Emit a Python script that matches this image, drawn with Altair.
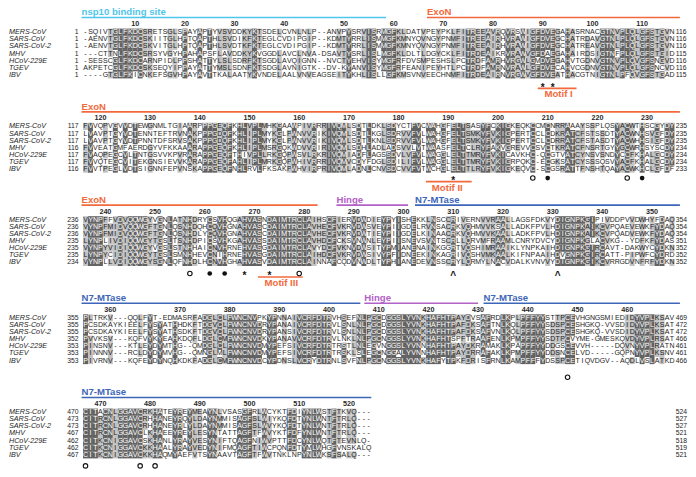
import altair as alt
import pandas as pd
from collections import Counter

SPECIES = ["MERS-CoV", "SARS-CoV", "SARS-CoV-2", "MHV", "HCoV-229E", "TGEV", "IBV"]

BLOCK1 = [
    "-SQIVTGLFKDCSRETSGLSPAYAPTYVSVDDKYKTSDELCVNLNLP--ANVPYSRVISRMGFKLDATVPEYPKLFITREEAVRQVRSWIGFDVEGAHASRNACGTNVPLQLGFSTGVN",
    "-AENVTGLFKDCSKIITGLHPTQAPTHLSVDIKFKTEGLCVDIPGIP--KDMTYRRLISMMGFKMNYQVNGYPNMFITREEAIRHVRAWIGFDVEGCHATRDAVGTNLPLQLGFSTGVN",
    "-AENVTGLFKDCSKVITGLHPTQAPTHLSVDTKFKTEGLCVDIPGIP--KDMTYRRLISMMGFKMNYQVNGYPNMFITREEAIRHVRAWIGFDVEGCHATREAVGTNLPLQLGFSTGVN",
    "---CTTNLFKDCSRSYVGYHPAHAPSFLAVDDKYKVGGDLAVCLNVA-DSAVTYSRLISLMGFKLDLTLDGYCKLFITRDEAIKRVRAWVGFDAEGAHAIRDSIGTNFPLQLGFSTGID",
    "-SESSCGLFKDCARNPIDLPPSHATTYLSLSDRFKTSGDLAVQIGNN--NVCTYEHVISYMGFRFDVSMPESHSLPCTRDFAMRHVRGWLGMDVEGAHVTGDNVGTNVPLQVGFSNGVD",
    "AKPETCGLFKDCSKSEQYIPPAYATTYMSLSDNFKTSDGLAVNIGTK--DV-KYANVISYMGFRFEANIPEYHTLPCTRDFAMRNVRAWLGFDVECAHVCGDNVGTNVPLQLGFSNCVD",
    "----GTGLFKICNKEFSGVHPAYAVTTKALAATYKVNDELAALVNVEAGSEITYKHLISLLGFKMSVNVEECHNMFITRDEAIRNVRGWVGFDVEATHACGTNIGTNLPFQVGFSTGAD",
]
BLOCK2 = [
    "FVVQPVGVVDTEWGNMLTGIAARPPPGEQFKHLVPLMHKGAAWPIVRRRIVQMLSDTLDKLSDYCTFVCWAHGFELTSASYFCKIGKEQKCCMCNRRAAAYSSPLQSYACWTHSCGYDY",
    "LVAVPTGYVDTENNTEFTRVNAKPPPGDQFKHLIPLMYKGLPWNVVRIKIVQMLSDTLKGLSDRVVFVLWAHGFELTSMKYFVKIGPERTCCLCDKRATCFSTSSDTYACWNHSVGFDY",
    "LVAVPTGYVDTPNNTDFSRVSAKPPPGDQFKHLIPLMYKGLPWNVVRIKIVQMLSDTLKNLSDRVVFVLWAHGFELTSMKYFVKIGPERTCCLCDRRATCFSTASDTYACWHHSIGFDY",
    "FVVEATGMFAERDGYVFKKAAARAPPGEQFKHLIPLMSRGQKWDVVRIRIVQMLSDHLADLADSVVLVTWAASFELTCLRYFAKVGREVVCSVCTKRATCFNSRTGYYGCWRHSYSCDY",
    "FVAQPEGCVLTNTGSVVKPVRARAPPGEQFTHIVPLLRKGQPWSVLRKRIVQMIADFLAGSSDVLVFVLWAGGLELTTMRYFVKICAVKHC-QCGTVATCYNSVSNDYCCFKHALGCDY",
    "FVVQTEGCVITEKGNSIEVVKARAPPGEQFAHLIPLMRKGQPWHIVRRRIVQMVCDYFDGLSDILIFVLWAGGLELTTMRYFVKIGRPQKC-ECGKSATCYSSSQSVYACFKHALGCDY",
    "FVVTPEGLVDTSIGNNFEPVNSKAPPGEQFNHLRVLFKSAKPWHVIRPRIVQMLADNLCNVSDCVVFVTWCHGLELTTLRYFVKIGKEQVC-SCGSRATTFNSHTQAYACWKHCLGFDF",
]
BLOCK3 = [
    "VYNPFFVDVQQWGYVGNLATNHDRYCSVHQGAHVASNDAIMTRCLAIHSCFIERVDWDIEYPYISHEKKLNSCCRIVERNVVRAALLAGSFDKVYDIGNPKGIPIVDDPVVDWHYFDAQ",
    "VYNPFMIDVQQWGFTGNLQSNHDQHCQVHGNAHVASCDAIMTRCLAVHECFVKRVDWSVEYPIIGDELRVNSACRKVQHMVVKSALLADKFPVLHDIGNPKAIKCVPQAEVEWKFYDAQ",
    "VYNPFMIDVQQWGFTGNLQSNHDLYCQVHGNAHVASCDAIMTRCLAVHECFVKRVDWTIEYPIIGDELKINAACRKVQHMVVKAALLADKFPVLHDIGNPKAIKCVPQADVEWKFYDAQ",
    "LYNPLIVDIQQWGYTGSLTSNHDPICSVHKGAHVASSDAIMTRCLAVHDCFCKSVNWNLEYPIISNEVSVNTSCRLLQRVMFRAAMLCNRYDVCYDIGNPKGLACVKG--YDFKFYDAS",
    "VYNPYVIDIQQWGYVGSLSTNHHAICNVHRNEHVASGDAIMTRCLAVYDCFVKNVDWSITYPMIANENAINKGGRTVQSHIMRAAIKLYNPKAIHDIGNPKGIRCAVT-DAKWYCYDKN",
    "LYNPYCIDIQQWGYTGSLSMNHHEVCNIHRNEHVASGDAIMTRCLAIHDCFVKRVDWSIVYPFIDNEEKINKAGRIVQSHVMKAALKIFNPAAIHDVGNPKGIRCATT-PIPWFCYDRD",
    "VYNPLLVDIQQWGYSGNLQFNHDLHCNVHGHAHVASVDAIMTRCLAINNAFCQDVNWDLTYPHIANEDEVNSSCRYLQRMYLNACVDALKVNVVYDIGNPKGIKCVRRGDVNFRFYDKN",
]
BLOCK4 = [
    "PLTRKV---QQLFYT-EDMASRFADGLCLFWNCNVPKYPNNAIVCRFDTRVHSEFNLPGCDGGSLYVNKHAFHTPAYDVSAFRDLKPLPFFYYSTTPCEVHGNGSMIEDIDYVPLKSAV",
    "PCSDKAYKIEELFYSYATHHDKFTDGVCLFWNCNVDRYPANAIVCRFDTRVLSNLNLPGCDGGSLYVNKHAFHTPAFDKSAFTNLKQLPFFYYSDSPCESHGKQ-VVSDIDYVPLKSAT",
    "PCSDKAYKIEELFYSYATHSDKFTDGVCLFWNCNVDRYPANSIVCRFDTRVLSNLNLPGCDGGSLYVNKHAFHTPAFDKSAFVNLKQLPFFYYSDSPCESHGKQ-VVSDIDYVPLKSAT",
    "PVVKSV---KQFVYKYEAHKDQFLDGLCMFWNCNVDKYPANAVVCRFDTRVLNKLNLPGCNGGSLYVNKHAFHTSPFTRAAFENLKPMPFFYYSDTPCVYME-GMESKQVDYVPLRSAT",
    "PINSNV---KTLEYDYMTHG--QMDGLCLFWNCNVDMYPEFSIVCRFDTRTRSTLNLEGVNGGSLYVNNHAFHTPAYDKRAMAKLKPAPFFYYDDGSCEVVH-----DQVNYVPLRATN",
    "PINNNV---RCLDYDYMVHG--QMNGLMLFWNCNVDMYPEFSIVCRFDTRTRSKLSLEGCNGGALYVNNHAFHTPAYDRRAFAKLKPMPFFYYDDSNCELVD-----GQPNYVPLKSNV",
    "PIVRNV---KQFEYDYNQHKDKFADGLCMFWNCNVDCYPDNSLVCRYDTRNLSVFNLPGCNGGSLYVNKHAFYTPKFDRISFRNLKAMPFFFYDSSPCETIQVDGV--AQDLVSLATKD",
]
BLOCK5 = [
    "CITACNLGGAVCRKHATEYREYMEAYNLVSASGFRLWCYKTFDIYNLWSTFTKVQ---",
    "CITRCNLGGAVCRHHANEYRQYLDAYNMMISAGFSLWIYKQFDTYNLWNTFTRLQ---",
    "CITRCNLGGAVCRHHANEYRLYLDAYNMMISAGFSLWVYKQFDTYNLWNTFTRLQ---",
    "CITRCNLGGAVCLKHAEEYREYLESYNTATTAGFTFWVYKTFDFYNLWNTFTRLQ---",
    "CITKCNIGGAVCSKHANLYRAYVESYNIFTQAGFNIWVPTTFDCYNLWQTFTEVNLQ-",
    "CITKCNIGGAVCKKHAALYRAYVEDYNIFMQAGFTIWCPQNFDTYMLWHGFVNSKALQ",
    "CITKCNIGGAVCKKHAQMYAEFVTSYNAAVTAGFTFWVTNKLNPYNLWKSFSALQ---",
]
BLOCKS = [BLOCK1, BLOCK2, BLOCK3, BLOCK4, BLOCK5]

STARTS = [
    [1, 1, 1, 1, 1, 1, 1],
    [117, 117, 117, 116, 117, 117, 116],
    [236, 236, 236, 235, 235, 235, 234],
    [355, 355, 355, 352, 353, 353, 353],
    [470, 473, 473, 467, 462, 462, 467],
]
ENDS = [
    [116, 116, 116, 115, 116, 116, 115],
    [235, 235, 235, 234, 234, 234, 233],
    [354, 354, 354, 351, 352, 352, 352],
    [469, 472, 472, 466, 461, 461, 466],
    [524, 527, 527, 521, 518, 519, 521],
]
# sequence whose numbering is used for the ruler above each block
RULER_REF = [0, 0, 0, 0, 3]

# domain annotations: block, label, colour, start column, end column
DOMAINS = [
    (0, "nsp10 binding site", "#4fc6ea", 0.2, 61.5),
    (0, "ExoN", "#f26a3c", 69.7, 120.6),
    (1, "ExoN", "#f26a3c", 0.2, 120.6),
    (2, "ExoN", "#f26a3c", 0.2, 47.7),
    (2, "Hinge", "#b262c6", 51.5, 65.9),
    (2, "N7-MTase", "#3d66b8", 67.3, 120.6),
    (3, "N7-MTase", "#3d66b8", 0.2, 56.3),
    (3, "Hinge", "#b262c6", 57.1, 80.0),
    (3, "N7-MTase", "#3d66b8", 81.1, 120.6),
    (4, "N7-MTase", "#3d66b8", 0.2, 58.5),
]
# motifs: block, label, line start col, line end col, label centre col
MOTIFS = [
    (0, "Motif I", 92.0, 99.8, 96.2),
    (1, "Motif II", 69.5, 78.7, 73.8),
    (2, "Motif III", 35.7, 44.7, 40.4),
]
# residue marks below the alignment: block, column, symbol
MARKS = [
    (0, 93, "*"), (0, 95, "*"),
    (1, 75, "*"), (1, 91, "open"), (1, 94, "filled"), (1, 110, "open"), (1, 113, "filled"),
    (2, 22, "open"), (2, 26, "filled"), (2, 29, "filled"), (2, 33, "*"), (2, 38, "*"),
    (2, 44, "open"), (2, 75, "^"), (2, 96, "^"),
    (3, 98, "open"),
    (4, 1, "open"), (4, 12, "open"), (4, 15, "open"),
]

# layout (row units, column units)
BLOCK_Y = [3.243, 16.486, 29.595, 43.378, 56.622]
MARK_DY = [1.40, 1.25, 1.55, 2.35, 1.55]
YDOM = [-0.149, 64.61]
XDOM = [-14.594, 122.23]
NAME_X = -14.4
START_X = -0.41
END_X = 119.75

DARK = "#626262"
LIGHT = "#c2c2c2"
TXT = "#1e1e1e"
FONT = "Liberation Sans"
SEQFONT = "Liberation Sans Narrow, Liberation Sans"
GROUPS = ["FYW", "ILMV", "KR", "DE", "AG", "ST", "NQ"]


def grp(r):
    for g in GROUPS:
        if r in g:
            return g
    return r


cells = []
for b, blk in enumerate(BLOCKS):
    L = max(len(s) for s in blk)
    blk = [s.ljust(L, "-") for s in blk]
    for c in range(L):
        col = [s[c] for s in blk]
        res = [r for r in col if r != "-"]
        if res:
            cons, n_id = Counter(res).most_common(1)[0]
        else:
            cons, n_id = "", 0
        g = grp(cons)
        n_sim = sum(1 for r in res if grp(r) == g)
        for i, r in enumerate(col):
            if r == "-":
                shade = "none"
            elif r == cons and n_id >= 6:
                shade = "dark"
            elif r == cons and n_id == 5:
                shade = "light"
            elif n_id < 6 and grp(r) == g and n_sim >= 5:
                shade = "light"
            else:
                shade = "none"
            y = BLOCK_Y[b] + i
            cells.append(dict(x=c + 1, xl=c + 0.5, xr=c + 1.5, y=y, yt=y - 0.5, yb=y + 0.5,
                              ch=r, shade=shade, tcol="#ffffff" if shade == "dark" else TXT))
cells = pd.DataFrame(cells)

names, nums = [], []
for b in range(len(BLOCKS)):
    for i, sp in enumerate(SPECIES):
        y = BLOCK_Y[b] + i
        names.append(dict(x=NAME_X, y=y, t=sp))
        nums.append(dict(x=START_X, y=y, t=str(STARTS[b][i]), side="s"))
        nums.append(dict(x=END_X, y=y, t=str(ENDS[b][i]), side="e"))
names = pd.DataFrame(names)
nums = pd.DataFrame(nums)

ruler = []
for b, blk in enumerate(BLOCKS):
    ref = RULER_REF[b]
    n = STARTS[b][ref] - 1
    for c, ch in enumerate(blk[ref]):
        if ch != "-":
            n += 1
            if n % 10 == 0:
                ruler.append(dict(x=c + 1, y=BLOCK_Y[b] - 1.15, t=str(n)))
ruler = pd.DataFrame(ruler)

dom_lab, dom_line = [], []
for b, lab, colr, x0, x1 in DOMAINS:
    dom_lab.append(dict(x=x0, y=BLOCK_Y[b] - 2.78, t=lab, c=colr))
    dom_line.append(dict(x=x0, x2=x1, y=BLOCK_Y[b] - 2.05, c=colr))
dom_lab = pd.DataFrame(dom_lab)
dom_line = pd.DataFrame(dom_line)

mot_lab, mot_line = [], []
for b, lab, x0, x1, xt in MOTIFS:
    mot_lab.append(dict(x=xt, y=BLOCK_Y[b] + 6 + MARK_DY[b] + 1.35, t=lab))
    mot_line.append(dict(x=x0, x2=x1, y=BLOCK_Y[b] + 6 + MARK_DY[b] + 0.5))
mot_lab = pd.DataFrame(mot_lab)
mot_line = pd.DataFrame(mot_line)

mk = pd.DataFrame([dict(x=c, y=BLOCK_Y[b] + 6 + MARK_DY[b], s=s) for b, c, s in MARKS])
stars = mk[mk.s.isin(["*", "^"])].copy()
stars["yy"] = stars["y"] + stars["s"].map({"*": 0.38, "^": 0.3})
opens = mk[mk.s == "open"]
fills = mk[mk.s == "filled"]

XS = alt.Scale(domain=XDOM, nice=False, zero=False)
YS = alt.Scale(domain=YDOM, nice=False, zero=False, reverse=True)


def X(f):
    return alt.X(f, type="quantitative", scale=XS, axis=None)


def Y(f):
    return alt.Y(f, type="quantitative", scale=YS, axis=None)


shade_layer = alt.Chart(cells[cells.shade != "none"]).mark_rect(strokeWidth=0).encode(
    x=X("xl"), x2="xr", y=Y("yt"), y2="yb",
    color=alt.Color("shade:N", scale=alt.Scale(domain=["dark", "light"], range=[DARK, LIGHT]), legend=None),
)
res_layer = alt.Chart(cells[cells.ch != " "]).mark_text(font=SEQFONT, fontSize=7.0, baseline="middle", align="center").encode(
    x=X("x"), y=Y("y"), text="ch:N", color=alt.Color("tcol:N", scale=None),
)
name_layer = alt.Chart(names).mark_text(font=FONT, fontSize=7.2, fontStyle="italic", align="left",
                                        baseline="middle", color=TXT).encode(x=X("x"), y=Y("y"), text="t:N")
start_layer = alt.Chart(nums[nums.side == "s"]).mark_text(font=FONT, fontSize=6.8, align="right",
                                                         baseline="middle", color=TXT).encode(x=X("x"), y=Y("y"), text="t:N")
end_layer = alt.Chart(nums[nums.side == "e"]).mark_text(font=FONT, fontSize=6.8, align="left",
                                                       baseline="middle", color=TXT).encode(x=X("x"), y=Y("y"), text="t:N")
ruler_layer = alt.Chart(ruler).mark_text(font=FONT, fontSize=7.2, fontWeight="bold", align="center",
                                         baseline="middle", color="#2a2a2a").encode(x=X("x"), y=Y("y"), text="t:N")
dom_text = alt.Chart(dom_lab).mark_text(font=FONT, fontSize=9.6, fontWeight="bold", align="left",
                                        baseline="middle").encode(x=X("x"), y=Y("y"), text="t:N",
                                                                  color=alt.Color("c:N", scale=None))
dom_rule = alt.Chart(dom_line).mark_rule(strokeWidth=1.6).encode(
    x=X("x"), x2="x2", y=Y("y"), color=alt.Color("c:N", scale=None))
mot_text = alt.Chart(mot_lab).mark_text(font=FONT, fontSize=9.6, fontWeight="bold", align="center",
                                        baseline="middle", color="#f26a3c").encode(x=X("x"), y=Y("y"), text="t:N")
mot_rule = alt.Chart(mot_line).mark_rule(strokeWidth=1.6, color="#f26a3c").encode(x=X("x"), x2="x2", y=Y("y"))
star_layer = alt.Chart(stars).mark_text(font=FONT, fontSize=10, fontWeight="bold", align="center",
                                        baseline="middle", color="#111111").encode(x=X("x"), y=Y("yy"), text="s:N")
open_layer = alt.Chart(opens).mark_point(shape="circle", filled=False, size=20, strokeWidth=1.1,
                                         color="#111111", opacity=1).encode(x=X("x"), y=Y("y"))
fill_layer = alt.Chart(fills).mark_point(shape="circle", filled=True, size=22, color="#111111",
                                         opacity=1).encode(x=X("x"), y=Y("y"))

chart = alt.layer(
    shade_layer, res_layer, name_layer, start_layer, end_layer, ruler_layer,
    dom_rule, dom_text, mot_rule, mot_text, star_layer, open_layer, fill_layer,
).properties(
    width=680, height=461, padding=0, autosize=alt.AutoSizeParams(type="none")
).configure_view(stroke=None)

chart.save("out.html", embed_options={"renderer": "svg", "actions": False})
